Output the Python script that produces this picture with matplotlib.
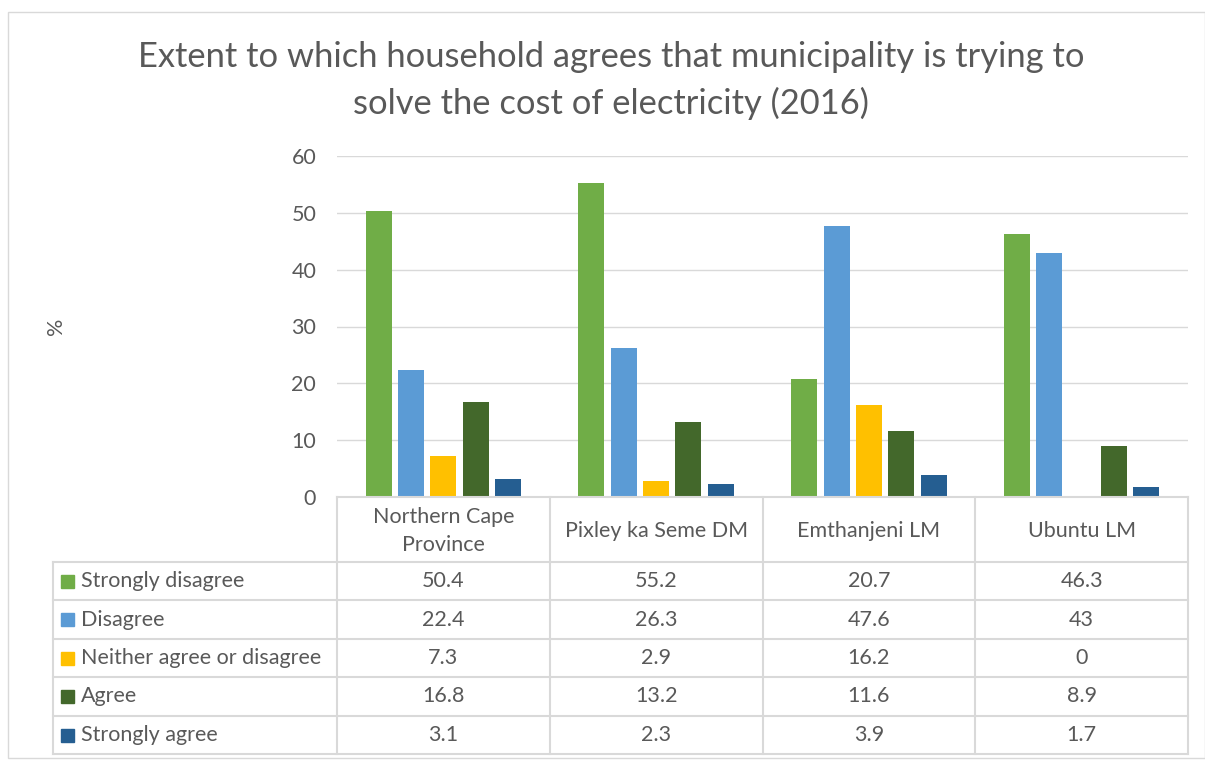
import numpy as np
import matplotlib.pyplot as plt
from matplotlib.patches import Rectangle

plt.rcParams['font.family'] = ['Lato', 'DejaVu Sans']

# data
categories = ['Northern Cape\nProvince', 'Pixley ka Seme DM', 'Emthanjeni LM', 'Ubuntu LM']
series_names = ['Strongly disagree', 'Disagree', 'Neither agree or disagree', 'Agree', 'Strongly agree']
strongly_disagree = [50.4, 55.2, 20.7, 46.3]
disagree = [22.4, 26.3, 47.6, 43]
neither = [7.3, 2.9, 16.2, 0]
agree = [16.8, 13.2, 11.6, 8.9]
strongly_agree = [3.1, 2.3, 3.9, 1.7]
values = [strongly_disagree, disagree, neither, agree, strongly_agree]
colors = ['#70ad47', '#5b9bd5', '#ffc000', '#43682b', '#255e91']

W, H = 1205, 760
txt = '#595959'
grid = '#d9d9d9'
fs = 15.5

fig = plt.figure(figsize=(W / 100, H / 100), dpi=100)

def fx(px):
    return px / W

def fy(py):
    return 1 - py / H

# outer chart border
fig.patches.append(Rectangle((fx(8), fy(758)), fx(1205 - 8), (758 - 12) / H,
                             transform=fig.transFigure, fill=False,
                             edgecolor=grid, lw=1))

fig.text(fx(611), fy(57), 'Extent to which household agrees that municipality is trying to',
         ha='center', va='center', fontsize=24.8, color=txt)
fig.text(fx(611), fy(103), 'solve the cost of electricity (2016)',
         ha='center', va='center', fontsize=24.8, color=txt)

left, right, top, bottom = 337, 1188, 156, 497
ax = fig.add_axes([fx(left), fy(bottom), fx(right - left), (bottom - top) / H])
n = len(categories)
x = np.arange(n)
slot = 0.152
bw = 0.122
for i, (vals, c) in enumerate(zip(values, colors)):
    ax.bar(x + (i - 2) * slot, vals, width=bw, color=c, zorder=3)
ax.set_xlim(-0.5, n - 0.5)
ax.set_ylim(0, 60)
ax.set_yticks(range(0, 61, 10))
ax.yaxis.grid(True, color=grid, lw=1, zorder=0)
ax.tick_params(axis='y', length=0, labelsize=fs, labelcolor=txt, pad=15)
ax.set_xticks([])
for s in ax.spines.values():
    s.set_visible(False)
ax.set_ylabel('%', fontsize=fs, color=txt, labelpad=0)
ax.yaxis.set_label_coords(fx(66 - left) / fx(right - left), 0.5)

# data table
col_w = (right - left) / n
tab_left = 53
row_tops = [497, 562, 600, 639, 677, 716, 754]
lc = '#d9d9d9'
# vertical lines
for k in range(n + 1):
    xp = left + k * col_w
    fig.add_artist(plt.Line2D([fx(xp), fx(xp)], [fy(497), fy(754)], color=lc, lw=1.5))
fig.add_artist(plt.Line2D([fx(tab_left), fx(tab_left)], [fy(562), fy(754)], color=lc, lw=1.5))
# horizontal lines
for r, yp in enumerate(row_tops):
    x0 = left if r == 0 else tab_left
    fig.add_artist(plt.Line2D([fx(x0), fx(right)], [fy(yp), fy(yp)], color=lc, lw=1.5))
# header
for k, cat in enumerate(categories):
    fig.text(fx(left + (k + 0.5) * col_w), fy(531), cat, ha='center', va='center',
             fontsize=fs, color=txt, linespacing=1.45)
# rows
for r, (name, vals, c) in enumerate(zip(series_names, values, colors)):
    yc = (row_tops[r + 1] + row_tops[r + 2]) / 2
    fig.patches.append(Rectangle((fx(61), fy(yc + 6.5)), fx(13), 13 / H,
                                 transform=fig.transFigure, color=c))
    fig.text(fx(81), fy(yc), name, ha='left', va='center', fontsize=fs, color=txt)
    for k, v in enumerate(vals):
        fig.text(fx(left + (k + 0.5) * col_w), fy(yc), f'{v:g}', ha='center', va='center',
                 fontsize=fs, color=txt)

fig.savefig('out.png', dpi=100)
